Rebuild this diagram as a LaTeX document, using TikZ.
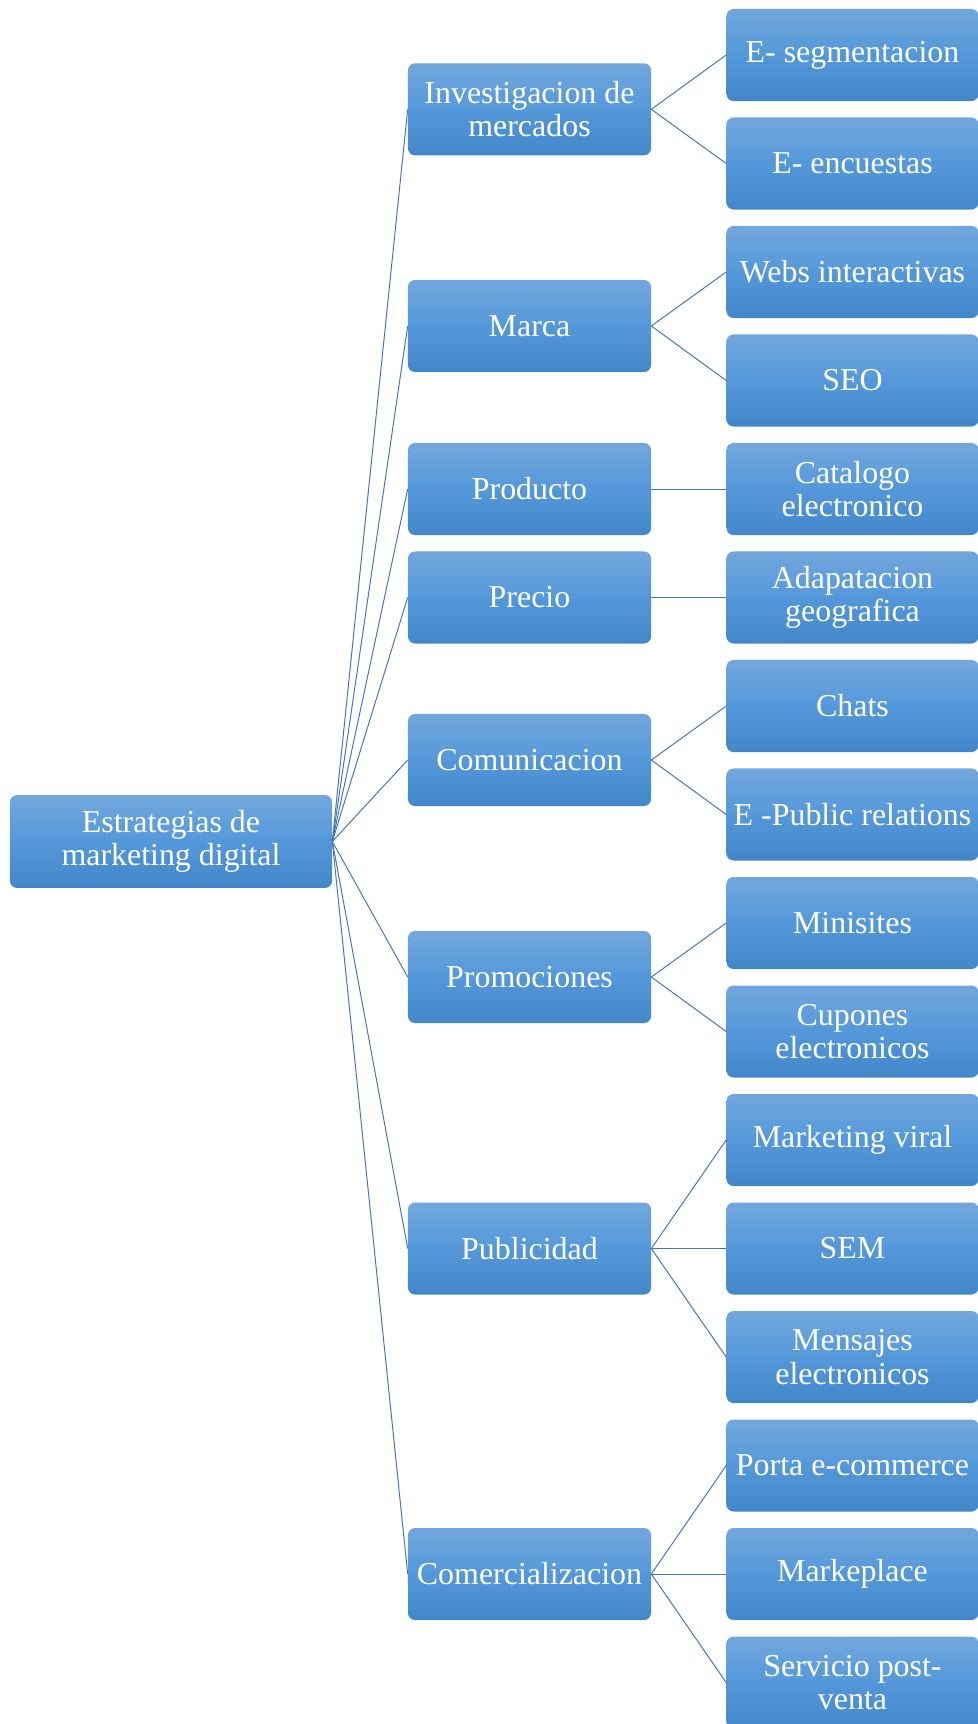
\documentclass[tikz,border=0pt]{standalone}
\usepackage{fontspec}
\setmainfont{Liberation Serif}
\usetikzlibrary{positioning}

\definecolor{boxtop}{RGB}{114,167,221}
\definecolor{boxmid}{RGB}{84,152,218}
\definecolor{boxbot}{RGB}{66,135,201}
\definecolor{linkblue}{RGB}{70,118,176}

\begin{document}
\begin{tikzpicture}[
    x=0.025cm, y=-0.025cm,
    box/.style={rounded corners=5pt, top color=boxtop, bottom color=boxbot, middle color=boxmid,
        text=white, align=center, inner sep=0pt, font=\fontsize{22.7}{23.8}\selectfont},
    rootbox/.style={box, minimum width=8.05cm, minimum height=2.32cm},
    midbox/.style={box, minimum width=6.075cm, minimum height=2.3cm},
    leafbox/.style={box, minimum width=6.3cm, minimum height=2.3cm},
    link/.style={draw=linkblue, line width=0.7pt}
]
\useasboundingbox (0,0) rectangle (978,1724);
\clip (0,0) rectangle (978,1724);

% Row positions
\def\leafx{852.5}
\def\midx{529.5}
\def\pitch{108.5}

% Root
\node[rootbox] (root) at (171, 841.5) {Estrategias de\\marketing digital};

% Strategy areas
\node[midbox] (m1) at (\midx, 109.3) {Investigacion de\\mercados};
\node[midbox] (m2) at (\midx, 326) {Marca};
\node[midbox] (m3) at (\midx, 489) {Producto};
\node[midbox] (m4) at (\midx, 597.5) {Precio};
\node[midbox] (m5) at (\midx, 760) {Comunicacion};
\node[midbox] (m6) at (\midx, 977) {Promociones};
\node[midbox] (m7) at (\midx, 1248.5) {Publicidad};
\node[midbox] (m8) at (\midx, 1574) {Comercializacion};

% Digital tools, one per row
\foreach \i/\txt in {0/{E- segmentacion}, 1/{E- encuestas}, 2/{Webs interactivas}, 3/{SEO},
    4/{Catalogo\\electronico}, 5/{Adapatacion\\geografica}, 6/{Chats}, 7/{E -Public relations},
    8/{Minisites}, 9/{Cupones\\electronicos}, 10/{Marketing viral}, 11/{SEM},
    12/{Mensajes\\electronicos}, 13/{Porta e-commerce}, 14/{Markeplace}, 15/{Servicio post-\\venta}} {
    \node[leafbox] (t\i) at (\leafx, {55+\pitch*\i}) {\txt};
}

% Connectors
\foreach \m in {1,...,8} {
    \draw[link] (root.east) -- (m\m.west);
}
\foreach \m/\t in {1/0, 1/1, 2/2, 2/3, 3/4, 4/5, 5/6, 5/7, 6/8, 6/9,
    7/10, 7/11, 7/12, 8/13, 8/14, 8/15} {
    \draw[link] (m\m.east) -- (t\t.west);
}

\end{tikzpicture}
\end{document}
